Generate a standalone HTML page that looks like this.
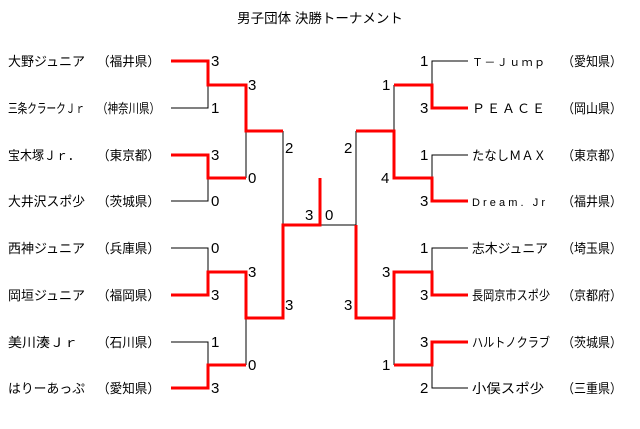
<!DOCTYPE html>
<html><head><meta charset="utf-8"><style>
html,body{margin:0;padding:0;background:#fff;}
svg{display:block;}
text{font-family:"Liberation Sans","Noto Sans CJK JP",sans-serif;font-size:13px;fill:#000;}
.s{font-size:15px;}
</style></head><body>
<svg width="640" height="429" xmlns="http://www.w3.org/2000/svg">
<text x="320" y="23" text-anchor="middle" style="font-size:13.5px">男子団体 決勝トーナメント</text>
<g fill="none" stroke="#000" stroke-width="1">
<polyline points="171,108 208,108 208,85"/>
<polyline points="171,201 208,201 208,178"/>
<line x1="246" y1="131" x2="246" y2="178"/>
<polyline points="171,248 208,248 208,272"/>
<polyline points="171,342 208,342 208,365"/>
<line x1="246" y1="318" x2="246" y2="365"/>
<line x1="283" y1="131" x2="283" y2="225"/>
<polyline points="468,61 432,61 432,85"/>
<polyline points="468,155 432,155 432,178"/>
<line x1="394" y1="85" x2="394" y2="131"/>
<polyline points="468,248 432,248 432,272"/>
<polyline points="468,388 432,388 432,365"/>
<line x1="394" y1="318" x2="394" y2="365"/>
<line x1="356" y1="131" x2="356" y2="225"/>
<line x1="320" y1="225" x2="356" y2="225"/>
</g>
<g fill="none" stroke="#f00" stroke-width="3">
<polyline points="171,61 208,61 208,85 246,85 246,131 283,131"/>
<polyline points="171,155 208,155 208,178 246,178"/>
<polyline points="171,295 208,295 208,272 246,272 246,318 283,318 283,225 320,225 320,178"/>
<polyline points="171,388 208,388 208,365 246,365"/>
<polyline points="468,108 432,108 432,85 394,85"/>
<polyline points="468,201 432,201 432,178 394,178 394,131 356,131"/>
<polyline points="468,295 432,295 432,272 394,272 394,318 356,318 356,225"/>
<polyline points="468,342 432,342 432,365 394,365"/>
</g>
<g>
<text x="8" y="66" textLength="77" lengthAdjust="spacingAndGlyphs">大野ジュニア</text><text x="97" y="66" textLength="63" lengthAdjust="spacingAndGlyphs">（福井県）</text>
<text x="8" y="113" textLength="77" lengthAdjust="spacingAndGlyphs">三条クラークＪｒ</text><text x="97" y="113" textLength="63" lengthAdjust="spacingAndGlyphs">（神奈川県）</text>
<text x="8" y="160" textLength="72" lengthAdjust="spacingAndGlyphs">宝木塚Ｊｒ．</text><text x="97" y="160" textLength="63" lengthAdjust="spacingAndGlyphs">（東京都）</text>
<text x="8" y="206" textLength="77" lengthAdjust="spacingAndGlyphs">大井沢スポ少</text><text x="97" y="206" textLength="63" lengthAdjust="spacingAndGlyphs">（茨城県）</text>
<text x="8" y="253" textLength="77" lengthAdjust="spacingAndGlyphs">西神ジュニア</text><text x="97" y="253" textLength="63" lengthAdjust="spacingAndGlyphs">（兵庫県）</text>
<text x="8" y="300" textLength="77" lengthAdjust="spacingAndGlyphs">岡垣ジュニア</text><text x="97" y="300" textLength="63" lengthAdjust="spacingAndGlyphs">（福岡県）</text>
<text x="8" y="347" textLength="70" lengthAdjust="spacingAndGlyphs">美川湊Ｊｒ</text><text x="97" y="347" textLength="63" lengthAdjust="spacingAndGlyphs">（石川県）</text>
<text x="8" y="393" textLength="77" lengthAdjust="spacingAndGlyphs">はりーあっぷ</text><text x="97" y="393" textLength="63" lengthAdjust="spacingAndGlyphs">（愛知県）</text>
<text x="472" y="66" textLength="73" lengthAdjust="spacing" style="font-size:11px">Ｔ－Ｊｕｍｐ</text><text x="562" y="66" textLength="60" lengthAdjust="spacingAndGlyphs">（愛知県）</text>
<text x="472" y="113" textLength="73" lengthAdjust="spacing">ＰＥＡＣＥ</text><text x="562" y="113" textLength="60" lengthAdjust="spacingAndGlyphs">（岡山県）</text>
<text x="472" y="160" textLength="74" lengthAdjust="spacingAndGlyphs">たなしＭＡＸ</text><text x="562" y="160" textLength="60" lengthAdjust="spacingAndGlyphs">（東京都）</text>
<text x="472" y="206" textLength="73" lengthAdjust="spacing" style="font-size:11px">Dream. Jr</text><text x="562" y="206" textLength="60" lengthAdjust="spacingAndGlyphs">（福井県）</text>
<text x="472" y="253" textLength="76" lengthAdjust="spacingAndGlyphs">志木ジュニア</text><text x="562" y="253" textLength="60" lengthAdjust="spacingAndGlyphs">（埼玉県）</text>
<text x="472" y="300" textLength="78" lengthAdjust="spacingAndGlyphs">長岡京市スポ少</text><text x="562" y="300" textLength="60" lengthAdjust="spacingAndGlyphs">（京都府）</text>
<text x="472" y="347" textLength="78" lengthAdjust="spacingAndGlyphs">ハルトノクラブ</text><text x="562" y="347" textLength="60" lengthAdjust="spacingAndGlyphs">（茨城県）</text>
<text x="472" y="393" textLength="72" lengthAdjust="spacingAndGlyphs">小俣スポ少</text><text x="562" y="393" textLength="60" lengthAdjust="spacingAndGlyphs">（三重県）</text>
</g>
<g>
<text class="s" x="211" y="66">3</text><text class="s" x="211" y="113">1</text><text class="s" x="211" y="160">3</text><text class="s" x="211" y="206">0</text>
<text class="s" x="248" y="90">3</text><text class="s" x="248" y="183">0</text><text class="s" x="285" y="153">2</text>
<text class="s" x="211" y="253">0</text><text class="s" x="211" y="300">3</text><text class="s" x="211" y="347">1</text><text class="s" x="211" y="393">3</text>
<text class="s" x="248" y="277">3</text><text class="s" x="248" y="370">0</text><text class="s" x="285" y="310">3</text>
<text class="s" x="305" y="220">3</text><text class="s" x="325" y="220">0</text>
<text class="s" x="420" y="66">1</text><text class="s" x="420" y="113">3</text><text class="s" x="420" y="160">1</text><text class="s" x="420" y="206">3</text>
<text class="s" x="382" y="90">1</text><text class="s" x="381" y="183">4</text><text class="s" x="344" y="153">2</text>
<text class="s" x="420" y="253">1</text><text class="s" x="420" y="300">3</text><text class="s" x="420" y="347">3</text><text class="s" x="420" y="393">2</text>
<text class="s" x="382" y="277">3</text><text class="s" x="382" y="370">1</text><text class="s" x="344" y="310">3</text>
</g>
</svg>
</body></html>
